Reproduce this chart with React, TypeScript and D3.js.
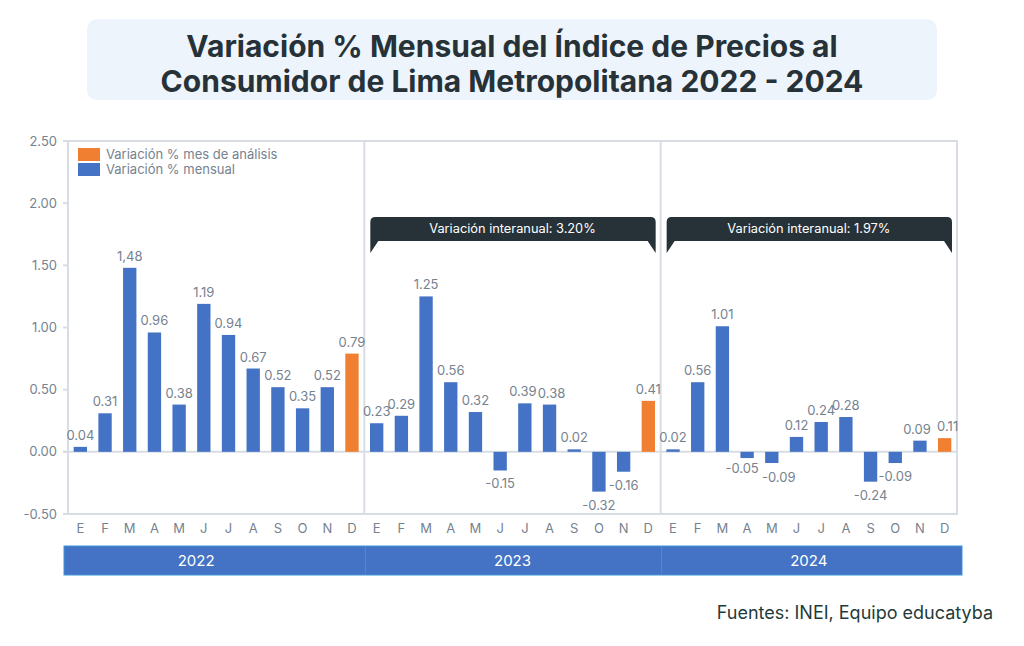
import React, { useEffect } from "react";
import * as d3 from "d3";

// Monthly CPI variation (%) Lima Metropolitana
const years = ["2022", "2023", "2024"];
const months = ["E", "F", "M", "A", "M", "J", "J", "A", "S", "O", "N", "D"];
const values2022 = [0.04, 0.31, 1.48, 0.96, 0.38, 1.19, 0.94, 0.67, 0.52, 0.35, 0.52, 0.79];
const values2023 = [0.23, 0.29, 1.25, 0.56, 0.32, -0.15, 0.39, 0.38, 0.02, -0.32, -0.16, 0.41];
const values2024 = [0.02, 0.56, 1.01, -0.05, -0.09, 0.12, 0.24, 0.28, -0.24, -0.09, 0.09, 0.11];
const interanual = [null, "Variación interanual: 3.20%", "Variación interanual: 1.97%"];
const yTicks = [-0.5, 0, 0.5, 1, 1.5, 2, 2.5];
const legendItems = [
    { label: "Variación % mes de análisis", color: "#f07f32" },
    { label: "Variación % mensual", color: "#4472c4" },
];

const BLUE = "#4472c4";
const ORANGE = "#f07f32";
const GRID = "#d8dde4";
const TEXT = "#76828f";
const FONT = "Inter, 'Noto Sans', sans-serif";

type Bar = { key: string; year: number; month: number; value: number };

const series = [values2022, values2023, values2024];
const bars: Bar[] = series.flatMap((vals, yi) =>
    vals.map((v, mi) => ({ key: `${years[yi]}-${mi}`, year: yi, month: mi, value: v }))
);

const fmt = (v: number, key: string) => {
    const s = v.toFixed(2);
    // the reference prints March 2022 with a comma
    return key === "2022-2" ? s.replace(".", ",") : s;
};

// small nudges so neighbouring labels don't collide
const nudge: Record<string, [number, number]> = {
    "2024-3": [-5, -3],
    "2024-4": [7, 1],
    "2023-6": [-2, 0],
    "2023-7": [2, 0],
    "2024-10": [-3, 0],
    "2024-11": [3, 0],
};

const App: React.FC = () => {
    useEffect(() => {
        document.body.style.margin = "0";
    }, []);

    const width = 1024;
    const height = 646;
    const left = 68;
    const right = 957;
    const top = 141;
    const bottom = 514;

    const x = d3
        .scaleBand()
        .domain(bars.map((d) => d.key))
        .range([left, right])
        .paddingInner(0.46)
        .paddingOuter(0.23);

    const y = d3.scaleLinear().domain([-0.5, 2.5]).range([bottom, top]);

    const step = x.step();
    const bw = x.bandwidth();
    const gap = (step * x.paddingInner()) / 2;

    const panels = years.map((yr, i) => {
        const x0 = x(`${yr}-0`)! - gap;
        const x1 = x(`${yr}-11`)! + bw + gap;
        return { yr, i, x0, x1 };
    });

    const calloutPath = (x0: number, x1: number) => {
        const t = 217;
        const b = 241;
        const tail = 253;
        const r = 5;
        return `M${x0},${tail} L${x0},${t + r} Q${x0},${t} ${x0 + r},${t} L${x1 - r},${t} Q${x1},${t} ${x1},${t + r} L${x1},${tail} L${x1 - 8},${b} L${x0 + 8},${b} Z`;
    };

    return (
        <svg width={width} height={height} style={{ position: "absolute", left: 0, top: 0, fontFamily: FONT }}>
            <rect width={width} height={height} fill="#ffffff" />

            {/* title */}
            <rect x={87} y={19} width={850} height={81} rx={10} fill="#eef4fb" />
            <text x={512} y={57} textAnchor="middle" fontSize={30} fontWeight={700} fill="#263238">
                Variación % Mensual del Índice de Precios al
            </text>
            <text x={512} y={92} textAnchor="middle" fontSize={30} fontWeight={700} fill="#263238">
                Consumidor de Lima Metropolitana 2022 - 2024
            </text>

            {/* y axis */}
            {yTicks.map((t) => (
                <g key={t}>
                    <line x1={left - 5} x2={left} y1={y(t)} y2={y(t)} stroke={GRID} strokeWidth={2} />
                    <text x={57} y={y(t) + 4.5} textAnchor="end" fontSize={13} fill={TEXT}>
                        {t.toFixed(2)}
                    </text>
                </g>
            ))}

            {/* frame */}
            <rect x={left} y={top} width={right - left} height={bottom - top} fill="none" stroke={GRID} strokeWidth={2} />
            {panels.slice(1).map((p) => (
                <line key={p.yr} x1={p.x0} x2={p.x0} y1={top} y2={bottom} stroke={GRID} strokeWidth={2} />
            ))}
            <line x1={left - 5} x2={right} y1={y(0)} y2={y(0)} stroke={GRID} strokeWidth={2} />

            {/* callouts */}
            {panels.map((p) =>
                interanual[p.i] ? (
                    <g key={`c${p.yr}`}>
                        <path d={calloutPath(p.x0 + 6, p.x1 - 5)} fill="#263238" />
                        <text x={(p.x0 + p.x1) / 2} y={233} textAnchor="middle" fontSize={12.8} fill="#ffffff">
                            {interanual[p.i]}
                        </text>
                    </g>
                ) : null
            )}

            {/* bars */}
            {bars.map((d) => (
                <rect
                    key={d.key}
                    x={x(d.key)}
                    y={Math.min(y(d.value), y(0))}
                    width={bw}
                    height={Math.abs(y(d.value) - y(0))}
                    fill={d.month === 11 ? ORANGE : BLUE}
                />
            ))}
            {bars.map((d) => {
                const [dx, dy] = nudge[d.key] || [0, 0];
                return (
                    <text
                        key={`l${d.key}`}
                        x={x(d.key)! + bw / 2 + dx}
                        y={(d.value >= 0 ? y(d.value) - 7 : y(d.value) + 18) + dy}
                        textAnchor="middle"
                        fontSize={13}
                        fill={TEXT}
                    >
                        {fmt(d.value, d.key)}
                    </text>
                );
            })}

            {/* month labels */}
            {bars.map((d) => (
                <text key={`m${d.key}`} x={x(d.key)! + bw / 2} y={533} textAnchor="middle" fontSize={13} fill={TEXT}>
                    {months[d.month]}
                </text>
            ))}

            {/* year band */}
            <rect x={64} y={546} width={898} height={29} fill={BLUE} stroke="#3d94dc" strokeWidth={1} />
            {panels.slice(1).map((p) => (
                <line key={`s${p.yr}`} x1={p.x0 + 1} x2={p.x0 + 1} y1={546} y2={575} stroke="#3d94dc" strokeWidth={1} />
            ))}
            {panels.map((p) => (
                <text
                    key={`y${p.yr}`}
                    x={p.i === 0 ? (p.x0 + p.x1) / 2 - 20 : (p.x0 + p.x1) / 2}
                    y={566}
                    textAnchor="middle"
                    fontSize={15}
                    fill="#ffffff"
                >
                    {p.yr}
                </text>
            ))}

            {/* legend */}
            {legendItems.map((it, i) => (
                <g key={it.label}>
                    <rect x={78} y={148 + i * 15} width={22} height={13} fill={it.color} />
                    <text x={106} y={159 + i * 15} fontSize={13} fill={TEXT}>
                        {it.label}
                    </text>
                </g>
            ))}

            {/* source */}
            <text x={993} y={619} textAnchor="end" fontSize={18} fill="#1f3b3b">
                Fuentes: INEI, Equipo educatyba
            </text>
        </svg>
    );
};

export default App;
